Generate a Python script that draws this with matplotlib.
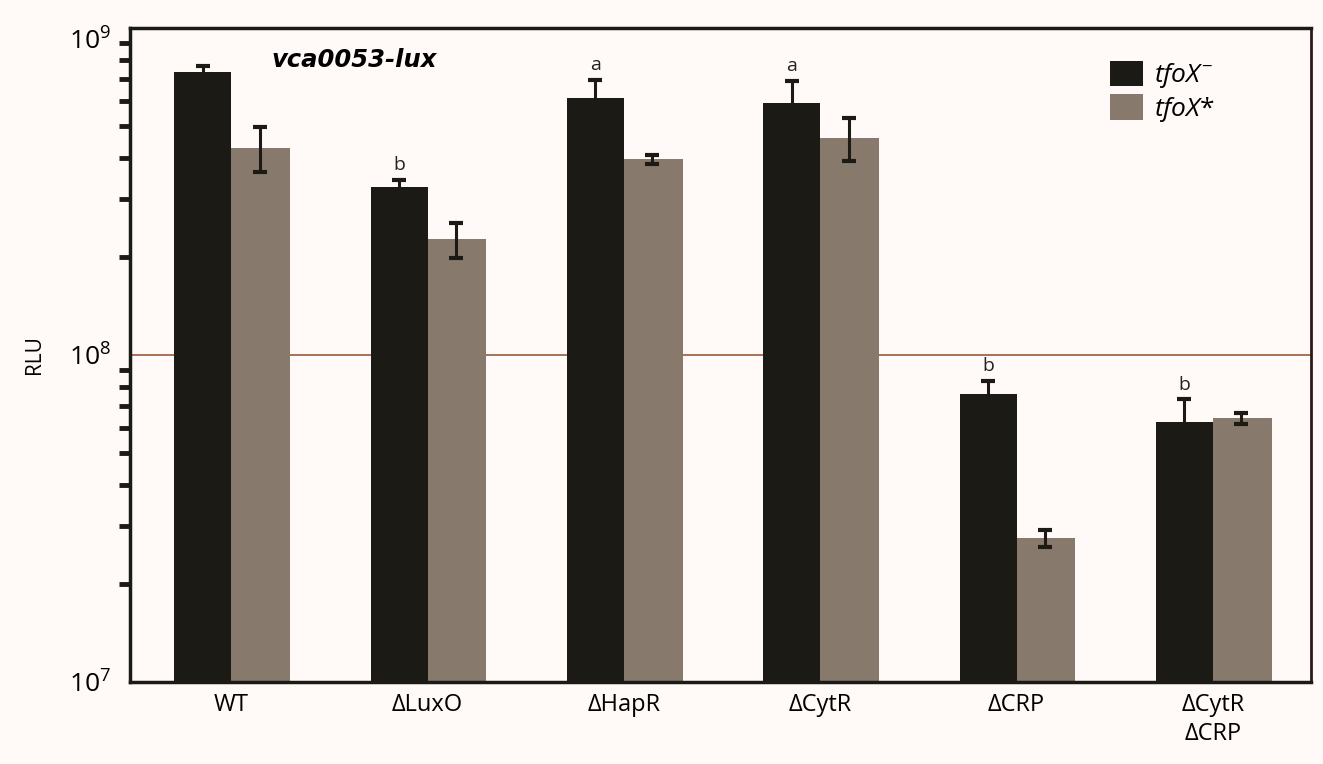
import numpy as np
import matplotlib
matplotlib.use('Agg')
import matplotlib.pyplot as plt
from matplotlib.ticker import LogLocator, NullFormatter, FixedLocator

# data
strains = ['WT', '\u0394LuxO', '\u0394HapR', '\u0394CytR', '\u0394CRP', '\u0394CytR\n\u0394CRP']
tfox_minus = [7.33e8, 3.27e8, 6.11e8, 5.90e8, 7.59e7, 6.25e7]
tfox_minus_err = [0.32e8, 0.16e8, 0.82e8, 0.99e8, 0.75e7, 1.06e7]
tfox_star = [4.30e8, 2.26e8, 3.97e8, 4.61e8, 2.75e7, 6.40e7]
tfox_star_err = [0.68e8, 0.28e8, 0.12e8, 0.68e8, 0.16e7, 0.25e7]
letters = ['', 'b', 'a', 'a', 'b', 'b']

black = '#1b1a14'
grey = '#877a6c'
bg = '#fffaf8'

plt.rcParams['font.family'] = ['Open Sans', 'DejaVu Sans']
plt.rcParams['mathtext.fontset'] = 'custom'
plt.rcParams['mathtext.rm'] = 'Open Sans'
plt.rcParams['mathtext.it'] = 'Open Sans:italic'

fig = plt.figure(figsize=(13.23, 7.64), dpi=100)
fig.patch.set_facecolor(bg)
ax = fig.add_axes([0.0983, 0.1073, 0.8927, 0.8561])
ax.set_facecolor(bg)

x = np.arange(len(strains))
w = 0.29
ax.bar(x - w/2, tfox_minus, w, color=black, label='$\\mathit{tfoX}^{-}$', zorder=2)
ax.bar(x + w/2 + 0.005, tfox_star, w + 0.01, color=grey, label='$\\mathit{tfoX}$*', zorder=2)
ax.errorbar(x - w/2, tfox_minus, yerr=tfox_minus_err, fmt='none', ecolor=black,
            elinewidth=2.2, capsize=5, capthick=3, zorder=3)
ax.errorbar(x + w/2, tfox_star, yerr=tfox_star_err, fmt='none', ecolor=black,
            elinewidth=2.2, capsize=5, capthick=3, zorder=3)

for i, t in enumerate(letters):
    if t:
        top = tfox_minus[i] + tfox_minus_err[i]
        ax.annotate(t, (x[i] - w/2, top), xytext=(0, 4), textcoords='offset points',
                    ha='center', va='bottom', fontsize=14, color='#222222')

ax.set_yscale('log')
ax.set_ylim(1e7, 1e9)
ax.set_xlim(-0.515, 5.5)
ax.axhline(1e8, color='#9a5a3c', lw=1.2, zorder=1)

ax.yaxis.set_major_locator(FixedLocator([1e7, 1e8, 1e9]))
ax.yaxis.set_minor_locator(LogLocator(base=10, subs=np.arange(2, 10)))
ax.yaxis.set_minor_formatter(NullFormatter())
ax.set_yticklabels(['$10^7$', '$10^8$', '$10^9$'])
ax.tick_params(axis='y', which='major', length=0, pad=14, labelsize=19)
ax.tick_params(axis='y', which='minor', direction='out', length=8, width=3.5, color=black)
ax.get_yticklabels()[2].set_va('top')
ax.set_xticks(x)
ax.set_xticklabels(strains, fontsize=17, va='top', linespacing=1.25)
ax.tick_params(axis='x', length=0, pad=8)

for s in ['left', 'bottom', 'top']:
    ax.spines[s].set_linewidth(2.5)
    ax.spines[s].set_color(black)
ax.spines['right'].set_linewidth(2)
ax.spines['right'].set_color('#2a1d17')

ax.set_ylabel('RLU', fontsize=15)
ax.yaxis.set_label_coords(-0.072, 0.5)

ax.text(0.19, 0.951, 'vca0053-lux', transform=ax.transAxes, fontsize=17.5,
        fontweight='bold', style='italic', family='DejaVu Sans',
        ha='center', va='center')

leg = ax.legend(loc='upper left', bbox_to_anchor=(0.83, 0.95), frameon=False,
                fontsize=19, handlelength=1.25, handleheight=1.1, handletextpad=0.4,
                labelspacing=0.15, borderpad=0, borderaxespad=0)

fig.savefig('out.png', dpi=100, facecolor=fig.get_facecolor())
